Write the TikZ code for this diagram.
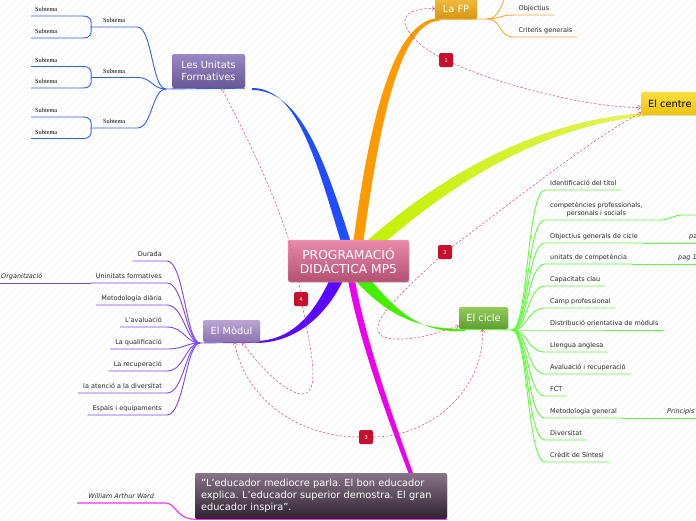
\documentclass[tikz,border=0pt]{standalone}
\usepackage{fontspec}
\setmainfont{DejaVu Sans}
\newfontfamily\subtemafont{Liberation Serif}
\usetikzlibrary{arrows.meta, shadows}
\frenchspacing

\definecolor{relred}{HTML}{D9566F}
\definecolor{numred}{HTML}{C8102E}
\definecolor{bblue}{HTML}{1F4DFF}
\definecolor{borange}{HTML}{FF9900}
\definecolor{byellow}{HTML}{C2F000}
\definecolor{byellowlt}{HTML}{E6F25A}
\definecolor{bgreen}{HTML}{44F000}
\definecolor{bviolet}{HTML}{5A08FF}
\definecolor{bmagenta}{HTML}{EE00EE}
\definecolor{lblue}{HTML}{2F5BFF}
\definecolor{lorange}{HTML}{FFA733}
\definecolor{lgreen}{HTML}{5EFF3A}
\definecolor{lviolet}{HTML}{7A44FF}
\definecolor{lmagenta}{HTML}{F030F0}
\definecolor{progtop}{HTML}{EA8BAB}
\definecolor{progbot}{HTML}{B25072}
\definecolor{fptop}{HTML}{F2BC3C}
\definecolor{fpbot}{HTML}{D69512}
\definecolor{centretop}{HTML}{F9DE40}
\definecolor{centrebot}{HTML}{EEC40E}
\definecolor{unitstop}{HTML}{9A88C4}
\definecolor{unitsbot}{HTML}{685896}
\definecolor{modultop}{HTML}{BAA4D4}
\definecolor{modulbot}{HTML}{8C74AE}
\definecolor{cicletop}{HTML}{94CC5C}
\definecolor{ciclebot}{HTML}{5F9C30}
\definecolor{quotetop}{HTML}{877585}
\definecolor{quotebot}{HTML}{2E2030}

\begin{document}
\begin{tikzpicture}[
    x=1pt, y=-1pt,
    font=\fontsize{6.5}{8}\selectfont,
    stripe/.style={draw=black!5, line width=0.5pt},
    topic/.style={rounded corners=2pt, text=white, inner sep=0pt, align=center,
                  font=\fontsize{9.8}{12.5}\selectfont,
                  drop shadow={opacity=0.25, shadow xshift=0.7pt, shadow yshift=-0.9pt}},
    leaf/.style={inner xsep=5pt, inner ysep=2.5pt, text height=5pt,
                 text depth=1.5pt, text=black!85},
    leaftwo/.style={inner xsep=5pt, inner ysep=2.5pt, align=center, text=black!85},
    note/.style={leaf, font=\fontsize{6.5}{8}\selectfont\itshape},
    subt/.style={inner ysep=2.5pt, text height=4.5pt, text depth=1.5pt,
                 font=\fontsize{6.3}{7}\selectfont\subtemafont},
    bline/.style={draw=lblue, line width=0.9pt},
    oline/.style={draw=lorange, line width=0.9pt},
    gline/.style={draw=lgreen, line width=0.9pt},
    vline/.style={draw=lviolet, line width=0.9pt},
    mline/.style={draw=lmagenta, line width=1.1pt},
    rel/.style={draw=relred, dash pattern=on 2.4pt off 1.8pt, line width=0.55pt},
    relhead/.style={-{Straight Barb[length=2.4pt,width=4.4pt]}},
    relnum/.style={fill=numred, rounded corners=1.5pt, text=white,
                   minimum size=14pt, inner sep=0pt, font=\fontsize{5.5}{6}\selectfont},
]
\useasboundingbox (0,0) rectangle (696,520);
\clip (0,0) rectangle (696,520);

% background
\fill[white] (0,0) rectangle (696,520);
\foreach \s in {0,8,...,1216}
  \draw[stripe] (\s-520,520) -- (\s,0);

% --- main branches ---
\fill[bblue] (344,252) .. controls (316,160) and (298,88) .. (252,88)
    -- (252,90) .. controls (302,90) and (326,164) .. (354,252) -- cycle;
\fill[borange] (352,252) .. controls (368,128) and (392,18) .. (440,18)
    -- (440,20.5) .. controls (398,22) and (378,132) .. (362,252) -- cycle;
\shade[left color=byellow, right color=byellowlt]
    (357,250) .. controls (414,197) and (518,121) .. (645,113)
    -- (645,116) .. controls (522,129) and (426,205) .. (367,258) -- cycle;
\fill[bgreen] (352,277) .. controls (388,317) and (418,329) .. (465,329)
    -- (465,331) .. controls (420,334) and (394,310) .. (363,270) -- cycle;
\fill[bviolet] (334,270) .. controls (320,303) and (298,341) .. (255,341)
    -- (255,343) .. controls (302,343) and (332,307) .. (346,274) -- cycle;
\fill[bmagenta] (347,275) .. controls (359,342) and (389,422) .. (410,477)
    -- (414,476) .. controls (394,420) and (365,340) .. (354,275) -- cycle;

% --- topics ---
\node[topic, top color=progtop, bottom color=progbot, draw=progtop!70!white,
      line width=0.4pt, minimum width=121pt, minimum height=42pt,
      font=\fontsize{12.3}{14.5}\selectfont] (prog) at (348.5,261)
      {PROGRAMACIÓ\\DIDÀCTICA MP5};
\node[topic, top color=fptop, bottom color=fpbot, minimum width=42pt,
      minimum height=21pt] (lafp) at (456,8.5) {La FP};
\node[topic, top color=centretop, bottom color=centrebot, text=black,
      anchor=west, inner xsep=7pt, minimum height=23pt] (centre) at (641,103.5) {El centre};
\node[topic, top color=unitstop, bottom color=unitsbot, minimum width=73pt,
      minimum height=34pt] (units) at (208.5,71) {Les Unitats\\Formatives};
\node[topic, top color=modultop, bottom color=modulbot, minimum width=57pt,
      minimum height=22pt] (modul) at (231.5,331) {El Mòdul};
\node[topic, top color=cicletop, bottom color=ciclebot, minimum width=49pt,
      minimum height=22pt] (cicle) at (483.5,318) {El cicle};
\node[topic, top color=quotetop, bottom color=quotebot, minimum width=252pt,
      minimum height=46pt, align=left, inner xsep=6pt, text width=240pt,
      font=\fontsize{9.8}{12}\selectfont] (quote) at (321,496)
      {"L’educador mediocre parla. El bon educador\\
       explica. L’educador superior demostra. El gran\\
       educador inspira”.};

% --- Les Unitats Formatives ---
\coordinate (ufork) at (166,89);
\node[subt, anchor=south west, minimum width=46pt] (u1) at (91,27) {Subtema};
\node[subt, anchor=south west, minimum width=46pt] (u2) at (91,77.5) {Subtema};
\node[subt, anchor=south west, minimum width=46pt] (u3) at (91,128) {Subtema};
\node[subt, anchor=south west, inner xsep=4pt, text width=43pt] (u11) at (31,16) {Subtema};
\node[subt, anchor=south west, inner xsep=4pt, text width=43pt] (u12) at (31,38) {Subtema};
\node[subt, anchor=south west, inner xsep=4pt, text width=43pt] (u21) at (31,66.5) {Subtema};
\node[subt, anchor=south west, inner xsep=4pt, text width=43pt] (u22) at (31,88) {Subtema};
\node[subt, anchor=south west, inner xsep=4pt, text width=43pt] (u31) at (31,117) {Subtema};
\node[subt, anchor=south west, inner xsep=4pt, text width=43pt] (u32) at (31,138.5) {Subtema};

\draw[bline] (ufork) -- (units.south east);
\draw[bline] (ufork) .. controls (152,89) and (152,27) .. (u1.south east) -- (u1.south west);
\draw[bline] (ufork) .. controls (152,89) and (152,77.5) .. (u2.south east) -- (u2.south west);
\draw[bline] (ufork) .. controls (152,89) and (152,128) .. (u3.south east) -- (u3.south west);
\draw[bline] (u1.south west) .. controls (92,19) and (90,16) .. (u11.south east) -- (u11.south west);
\draw[bline] (u1.south west) .. controls (92,35) and (90,38) .. (u12.south east) -- (u12.south west);
\draw[bline] (u2.south west) .. controls (92,69.5) and (90,66.5) .. (u21.south east) -- (u21.south west);
\draw[bline] (u2.south west) .. controls (92,85) and (90,88) .. (u22.south east) -- (u22.south west);
\draw[bline] (u3.south west) .. controls (92,120) and (90,117) .. (u31.south east) -- (u31.south west);
\draw[bline] (u3.south west) .. controls (92,135.5) and (90,138.5) .. (u32.south east) -- (u32.south west);

% --- La FP ---
\coordinate (ofork) at (487,19);
\coordinate (o3) at (506,-6);
\node[leaf, anchor=south west, inner xsep=4.5pt] (o1) at (514,15) {Objectius};
\node[leaf, anchor=south west, inner xsep=4.5pt] (o2) at (514,37) {Criteris generals};
\draw[oline] (lafp.south west) -- (ofork);
\draw[oline] (ofork) .. controls (500,19) and (500,15) .. (o1.south west) -- (o1.south east);
\draw[oline] (ofork) .. controls (502,19) and (498,37) .. (o2.south west) -- (o2.south east);
\draw[oline] (ofork) .. controls (498,19) and (502,5) .. (o3);

% --- El cicle ---
\coordinate (cfork) at (512,330);
\coordinate (c2more) at (682,215);
\node[leaf, anchor=south west] (c1) at (545,190) {Identificació del títol};
\node[leaftwo, anchor=south west] (c2) at (545,220) {competències professionals,\\personals i socials};
\node[leaf, anchor=south west] (c3) at (545,243) {Objectius generals de cicle};
\node[note, anchor=south west] (c3a) at (684,243) {pag 1};
\node[leaf, anchor=south west] (c4) at (545,264) {unitats de competència};
\node[note, anchor=south west] (c4a) at (673,264) {pag 1};
\node[leaf, anchor=south west] (c5) at (545,286) {Capacitats clau};
\node[leaf, anchor=south west] (c6) at (545,308) {Camp professional};
\node[leaf, anchor=south west] (c7) at (545,330) {Distribució orientativa de mòduls};
\node[leaf, anchor=south west] (c8) at (545,352) {Llengua anglesa};
\node[leaf, anchor=south west] (c9) at (545,374) {Avaluació i recuperació};
\node[leaf, anchor=south west] (c10) at (545,396) {FCT};
\node[leaf, anchor=south west] (c11) at (545,418) {Metodologia general};
\node[note, anchor=south west] (c11a) at (662,418) {Principis};
\node[leaf, anchor=south west] (c12) at (545,440) {Diversitat};
\node[leaf, anchor=south west] (c13) at (545,462) {Crèdit de Síntesi};

\draw[gline] (cicle.south west) -- (cfork);
\foreach \c in {c1,c2,c3,c4,c5,c6,c7,c8,c9,c10,c11,c12,c13}
  \draw[gline] (cfork) .. controls (528,330) and (527,0|-\c.south west)
      .. (\c.south west) -- (\c.south east);
\draw[gline] (c2.south east) -- ++(13,0) .. controls +(8,0) and (674,215) .. (c2more) -- ++(20,0);
\draw[gline] (c3.south east) -- (c3a.south east);
\draw[gline] (c4.south east) -- (c4a.south east);
\draw[gline] (c11.south east) -- (c11a.south east);

% --- El Mòdul ---
\coordinate (mfork) at (200,343);
\node[leaf, anchor=south east] (m1) at (167,261) {Durada};
\node[leaf, anchor=south east] (m2) at (167,283) {Uninitats formatives};
\node[note, anchor=south west] (org) at (-4,283) {Organització};
\node[leaf, anchor=south east] (m3) at (167,305) {Metodologia diària};
\node[leaf, anchor=south east] (m4) at (167,327) {L'avaluació};
\node[leaf, anchor=south east] (m5) at (167,349) {La qualificació};
\node[leaf, anchor=south east] (m6) at (167,371) {La recuperació};
\node[leaf, anchor=south east] (m7) at (167,393) {la atenció a la diversitat};
\node[leaf, anchor=south east] (m8) at (167,415) {Espais i equipaments};

\draw[vline] (mfork) -- (modul.south east);
\foreach \m in {m1,m2,m3,m4,m5,m6,m7,m8}
  \draw[vline] (mfork) .. controls (186,343) and (184,0|-\m.south east)
      .. (\m.south east) -- (\m.south west);
\draw[vline] (m2.south west) -- (org.south west);

% --- quote ---
\node[note, anchor=south west, minimum width=88pt] (ward) at (77,503) {William Arthur Ward};
\draw[mline] (quote.south west) -- (quote.south east);
\draw[mline] (quote.south west) .. controls (176,519) and (176,503) .. (ward.south east)
    -- (ward.south west);

% --- relationships ---
\node[relnum] (r1) at (446,60) {1};
\node[relnum] (r2) at (445,252) {2};
\node[relnum] (r3) at (366,437) {3};
\node[relnum] (r4) at (301,299) {4};

\draw[rel, relhead] (r1) .. controls (410,42) and (382,8) .. (lafp.west);
\draw[rel, relhead] (r1) .. controls (500,85) and (590,108) .. ([yshift=-4pt]centre.west);
\draw[rel, relhead] (r2) .. controls (515,200) and (590,140) .. ([yshift=-9pt]centre.west);
\draw[rel, relhead] (r2) .. controls (405,290) and (345,340) .. (400,339)
    .. controls (425,339) and (442,330) .. ([yshift=-8pt]cicle.west);
\draw[rel, relhead] (r3) .. controls (300,437) and (245,400) .. ([xshift=3pt]modul.south);
\draw[rel, relhead] (r3) .. controls (430,437) and (485,390) .. ([xshift=-1pt]cicle.south);
\draw[rel, relhead] (r4) .. controls (295,240) and (262,165) .. ([xshift=13pt]units.south);
\draw[rel, relhead] (r4) .. controls (310,345) and (322,395) .. (302,394)
    .. controls (285,393) and (258,365) .. ([xshift=11pt]modul.south);

\end{tikzpicture}
\end{document}
